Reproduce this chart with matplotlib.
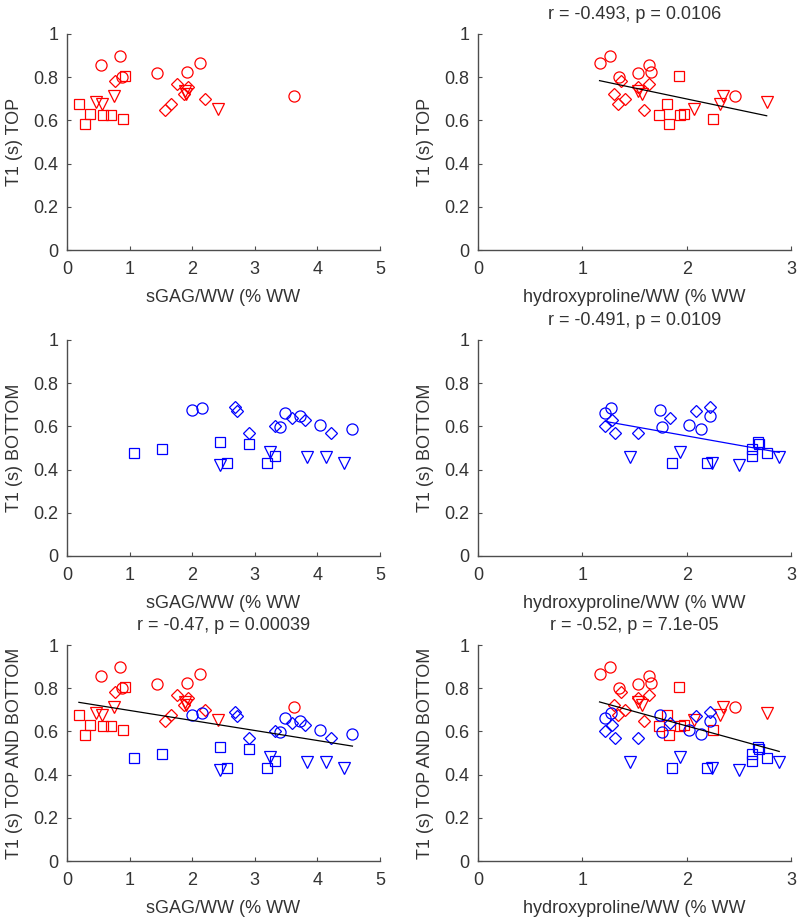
import numpy as np
import matplotlib
matplotlib.use('Agg')
import matplotlib.pyplot as plt

plt.rcParams['font.family'] = ['Liberation Sans', 'DejaVu Sans']
plt.rcParams['font.size'] = 13

# TOP samples (red): sGAG/WW, hydroxyproline/WW, T1
top_circ_sgag = [0.54, 0.85, 0.88, 1.43, 1.92, 2.12, 3.62]
top_circ_hyp = [1.636, 1.261, 1.35, 1.535, 1.662, 1.165, 2.464]
top_circ_t1 = [0.857, 0.898, 0.80, 0.818, 0.823, 0.866, 0.711]

top_sq_sgag = [0.19, 0.37, 0.28, 0.57, 0.71, 0.89, 0.93]
top_sq_hyp = [1.812, 1.97, 1.834, 1.732, 1.939, 2.257, 1.923]
top_sq_t1 = [0.678, 0.629, 0.582, 0.624, 0.625, 0.607, 0.806]

top_tri_sgag = [0.46, 0.56, 0.75, 1.88, 1.90, 2.42]
top_tri_hyp = [2.767, 2.32, 2.35, 1.535, 1.573, 2.066]
top_tri_t1 = [0.683, 0.678, 0.715, 0.735, 0.722, 0.655]

top_dia_sgag = [0.76, 1.75, 1.93, 1.87, 2.21, 1.66, 1.56]
top_dia_hyp = [1.366, 1.636, 1.535, 1.302, 1.407, 1.344, 1.588]
top_dia_t1 = [0.783, 0.770, 0.753, 0.72, 0.697, 0.675, 0.649]

# BOTTOM samples (blue)
bot_circ_sgag = [2.0, 2.15, 3.41, 3.48, 3.72, 4.04, 4.56]
bot_circ_hyp = [1.748, 1.27, 1.764, 1.222, 2.219, 2.018, 2.14]
bot_circ_t1 = [0.676, 0.687, 0.596, 0.66, 0.648, 0.606, 0.588]

bot_sq_sgag = [1.07, 1.51, 2.44, 2.91, 2.56, 3.2, 3.33]
bot_sq_hyp = [2.767, 2.63, 2.68, 2.69, 2.194, 1.86, 2.63]
bot_sq_t1 = [0.478, 0.494, 0.526, 0.519, 0.432, 0.429, 0.464]

bot_tri_sgag = [2.45, 3.24, 3.83, 4.14, 4.42]
bot_tri_hyp = [2.505, 1.932, 1.455, 2.887, 2.24]
bot_tri_t1 = [0.421, 0.483, 0.46, 0.46, 0.429]

bot_dia_sgag = [2.69, 2.72, 2.91, 3.33, 3.6, 3.8, 4.21]
bot_dia_hyp = [2.219, 2.088, 1.531, 1.222, 1.837, 1.286, 1.309]
bot_dia_t1 = [0.691, 0.673, 0.568, 0.602, 0.637, 0.63, 0.568]

titles = {
    'top_hyp': 'r = -0.493, p = 0.0106',
    'bot_hyp': 'r = -0.491, p = 0.0109',
    'all_sgag': 'r = -0.47, p = 0.00039',
    'all_hyp': 'r = -0.52, p = 7.1e-05',
}

top = {
    'o': (top_circ_sgag, top_circ_hyp, top_circ_t1),
    's': (top_sq_sgag, top_sq_hyp, top_sq_t1),
    'v': (top_tri_sgag, top_tri_hyp, top_tri_t1),
    'D': (top_dia_sgag, top_dia_hyp, top_dia_t1),
}
bot = {
    'o': (bot_circ_sgag, bot_circ_hyp, bot_circ_t1),
    's': (bot_sq_sgag, bot_sq_hyp, bot_sq_t1),
    'v': (bot_tri_sgag, bot_tri_hyp, bot_tri_t1),
    'D': (bot_dia_sgag, bot_dia_hyp, bot_dia_t1),
}
msize = {'o': 8, 's': 6.8, 'v': 8.4, 'D': 5.8}

fig = plt.figure(figsize=(8, 9.22), dpi=100)

W = 800.0
H = 922.0
cols = [(67, 380), (478, 791)]
rows = [(34, 250), (340, 556), (645, 861)]
txt_col = '0.2'


def make_ax(r, c, xmax):
    x0, x1 = cols[c]
    y0, y1 = rows[r]
    ax = fig.add_axes([x0 / W, 1 - y1 / H, (x1 - x0) / W, (y1 - y0) / H])
    ax.set_xlim(0, xmax)
    ax.set_ylim(0, 1)
    ax.set_xticks(range(0, xmax + 1))
    ax.set_yticks([0, 0.2, 0.4, 0.6, 0.8, 1])
    ax.set_yticklabels(['0', '0.2', '0.4', '0.6', '0.8', '1'])
    for s in ['top', 'right']:
        ax.spines[s].set_visible(False)
    for s in ['left', 'bottom']:
        ax.spines[s].set_color('0.3')
        ax.spines[s].set_linewidth(1.0)
    ax.tick_params(direction='in', length=3, width=0.8, colors='0.3',
                   labelcolor=txt_col, pad=6)
    ax.tick_params(axis='x', pad=8)
    return ax


def scatter_group(ax, groups, col_idx, color):
    for m, vals in groups.items():
        ax.plot(vals[col_idx], vals[2], m, ls='none', ms=msize[m],
                mfc='none', mec=color, mew=0.9)


def fit_line(ax, groups_list, col_idx, color):
    xs = []
    ys = []
    for groups in groups_list:
        for vals in groups.values():
            xs += list(vals[col_idx])
            ys += list(vals[2])
    xs = np.array(xs)
    ys = np.array(ys)
    k, b = np.polyfit(xs, ys, 1)
    xx = np.array([xs.min(), xs.max()])
    ax.plot(xx, k * xx + b, '-', color=color, lw=0.9)


def labels(ax, xl, yl, title=None):
    ax.set_xlabel(xl, color=txt_col, labelpad=8)
    ax.set_ylabel(yl, color=txt_col)
    ax.yaxis.set_label_coords(-0.14, 0.5)
    if title:
        ax.set_title(title, color=txt_col, fontsize=13, pad=10.5)


xl_sgag = 'sGAG/WW (% WW'
xl_hyp = 'hydroxyproline/WW (% WW'

# row 1: TOP
ax = make_ax(0, 0, 5)
scatter_group(ax, top, 0, 'red')
labels(ax, xl_sgag, 'T1 (s) TOP')

ax = make_ax(0, 1, 3)
scatter_group(ax, top, 1, 'red')
fit_line(ax, [top], 1, 'black')
labels(ax, xl_hyp, 'T1 (s) TOP', titles['top_hyp'])

# row 2: BOTTOM
ax = make_ax(1, 0, 5)
scatter_group(ax, bot, 0, 'blue')
labels(ax, xl_sgag, 'T1 (s) BOTTOM')

ax = make_ax(1, 1, 3)
scatter_group(ax, bot, 1, 'blue')
fit_line(ax, [bot], 1, 'blue')
labels(ax, xl_hyp, 'T1 (s) BOTTOM', titles['bot_hyp'])

# row 3: TOP AND BOTTOM
ax = make_ax(2, 0, 5)
scatter_group(ax, top, 0, 'red')
scatter_group(ax, bot, 0, 'blue')
fit_line(ax, [top, bot], 0, 'black')
labels(ax, xl_sgag, 'T1 (s) TOP AND BOTTOM', titles['all_sgag'])

ax = make_ax(2, 1, 3)
scatter_group(ax, top, 1, 'red')
scatter_group(ax, bot, 1, 'blue')
fit_line(ax, [top, bot], 1, 'black')
labels(ax, xl_hyp, 'T1 (s) TOP AND BOTTOM', titles['all_hyp'])

fig.savefig('out.png', dpi=100, facecolor='white')
